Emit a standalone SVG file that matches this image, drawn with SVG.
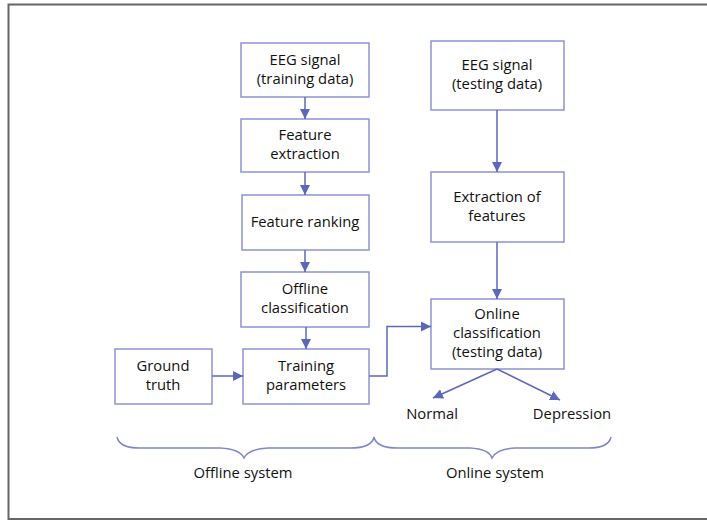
<svg xmlns="http://www.w3.org/2000/svg" width="707" height="521" viewBox="0 0 707 521">
<style>
.box{fill:#fff;stroke:#8b93d2;stroke-width:1.5}
.t{font-family:"Open Sans","Noto Sans",sans-serif;font-size:14.8px;fill:#111;text-anchor:middle}
.c{fill:none;stroke:#5d67b9;stroke-width:1.5}
.br{fill:none;stroke:#7f88c8;stroke-width:1.5}
</style>
<defs>
<marker id="ah" viewBox="0 0 10 10" refX="10" refY="5" markerWidth="10" markerHeight="10" markerUnits="userSpaceOnUse" orient="auto">
<path d="M0,0 L10,5 L0,10 z" fill="#5d67b9"/>
</marker>
</defs>
<rect width="707" height="521" fill="#fff"/>
<path d="M709,4.5 H8.5 V519 H709" fill="none" stroke="#666" stroke-width="2"/>

<g id="eeg-train"><rect class="box" x="241" y="43" width="128" height="54"/><text class="t" x="305" y="65">EEG signal</text><text class="t" x="305" y="84">(training data)</text></g>
<g id="feat-extract"><rect class="box" x="241" y="119" width="128" height="53"/><text class="t" x="305" y="140">Feature</text><text class="t" x="305" y="159">extraction</text></g>
<g id="feat-rank"><rect class="box" x="242" y="195" width="127" height="55"/><text class="t" x="305" y="227">Feature ranking</text></g>
<g id="offline-class"><rect class="box" x="241" y="272" width="128" height="55"/><text class="t" x="305" y="294">Offline</text><text class="t" x="305" y="313">classification</text></g>
<g id="train-params"><rect class="box" x="243" y="349" width="126" height="55"/><text class="t" x="306" y="371">Training</text><text class="t" x="306" y="390">parameters</text></g>
<g id="ground-truth"><rect class="box" x="115" y="349" width="97" height="55"/><text class="t" x="163" y="371">Ground</text><text class="t" x="163" y="390">truth</text></g>
<g id="eeg-test"><rect class="box" x="431" y="41" width="133" height="69"/><text class="t" x="497" y="70">EEG signal</text><text class="t" x="497" y="89">(testing data)</text></g>
<g id="extract-feat"><rect class="box" x="431" y="172" width="133" height="70"/><text class="t" x="497" y="202">Extraction of</text><text class="t" x="497" y="221">features</text></g>
<g id="online-class"><rect class="box" x="431" y="299" width="133" height="70"/><text class="t" x="497" y="319">Online</text><text class="t" x="497" y="338">classification</text><text class="t" x="497" y="357">(testing data)</text></g>
<g id="normal"><text class="t" x="432" y="419">Normal</text></g>
<g id="depression"><text class="t" x="572" y="419">Depression</text></g>

<g id="connectors">
<line class="c" x1="305" y1="97" x2="305" y2="119" marker-end="url(#ah)"/>
<line class="c" x1="305" y1="172" x2="305" y2="195" marker-end="url(#ah)"/>
<line class="c" x1="305" y1="250" x2="305" y2="272" marker-end="url(#ah)"/>
<line class="c" x1="306" y1="327" x2="306" y2="349" marker-end="url(#ah)"/>
<line class="c" x1="212" y1="376" x2="243" y2="376" marker-end="url(#ah)"/>
<polyline class="c" points="369,376 387,376 387,326.5 431,326.5" marker-end="url(#ah)"/>
<line class="c" x1="497" y1="110" x2="497" y2="172" marker-end="url(#ah)"/>
<line class="c" x1="497" y1="242" x2="497" y2="299" marker-end="url(#ah)"/>
<line class="c" x1="497" y1="369" x2="433" y2="398" marker-end="url(#ah)"/>
<line class="c" x1="497" y1="369" x2="560" y2="400" marker-end="url(#ah)"/>
</g>

<g id="offline-brace">
<path class="br" d="M117,437 Q119,448 140,448 L220,448 Q240,449 244,458 Q248,449 268,448 L350,448 Q372,448 374,437"/>
<text class="t" x="243" y="478">Offline system</text>
</g>
<g id="online-brace">
<path class="br" d="M374,437 Q376,448 398,448 L470,448 Q489,449 492,458 Q496,449 515,448 L588,448 Q609,448 611,437"/>
<text class="t" x="495" y="478">Online system</text>
</g>
</svg>
